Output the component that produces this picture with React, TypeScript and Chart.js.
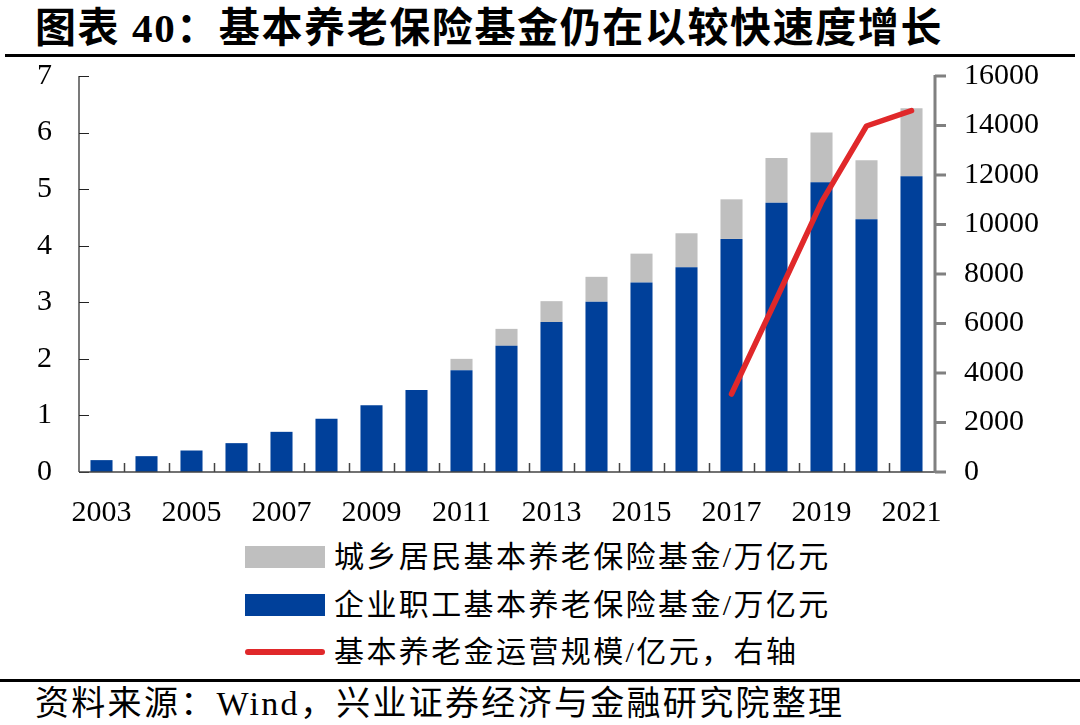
import React, { useEffect, useRef } from "react";
import { Chart, registerables } from "chart.js";

Chart.register(...registerables);

const years = ["2003","2004","2005","2006","2007","2008","2009","2010","2011","2012","2013","2014","2015","2016","2017","2018","2019","2020","2021"];
const enterpriseFund = [0.21,0.28,0.38,0.51,0.71,0.94,1.18,1.45,1.80,2.23,2.65,3.01,3.35,3.62,4.12,4.76,5.12,4.47,5.23];
const residentFund = [null,null,null,null,null,null,null,null,0.20,0.30,0.37,0.44,0.51,0.60,0.70,0.79,0.88,1.04,1.20];
const operatingScale = [null,null,null,null,null,null,null,null,null,null,null,null,null,null,3150,7000,10900,13980,14600];
const leftTicks = [0,1,2,3,4,5,6,7];
const rightTicks = [0,2000,4000,6000,8000,10000,12000,14000,16000];

const titleText = "图表 40：基本养老保险基金仍在以较快速度增长";
const legendResident = "城乡居民基本养老保险基金/万亿元";
const legendEnterprise = "企业职工基本养老保险基金/万亿元";
const legendScale = "基本养老金运营规模/亿元，右轴";
const sourceText = "资料来源：Wind，兴业证券经济与金融研究院整理";

const BLUE = "#00409A";
const GRAY = "#BFBFBF";
const RED = "#E0282A";
const FONT = "'Liberation Serif', 'Times New Roman', 'Noto Sans CJK SC', serif";

const tickPlugin = {
  id: "customTicks",
  afterDraw(chart: any) {
    const ctx = chart.ctx;
    const area = chart.chartArea;
    const y = chart.scales.y;
    const y1 = chart.scales.y1;
    ctx.save();
    // left axis
    ctx.strokeStyle = "#222";
    ctx.lineWidth = 1.2;
    ctx.beginPath();
    ctx.moveTo(area.left, area.top);
    ctx.lineTo(area.left, area.bottom);
    leftTicks.forEach((v) => {
      const py = Math.round(y.getPixelForValue(v)) + 0.5;
      ctx.moveTo(area.left, py);
      ctx.lineTo(area.left + 10, py);
    });
    ctx.stroke();
    // x axis
    ctx.strokeStyle = "#444";
    ctx.lineWidth = 1.5;
    ctx.beginPath();
    ctx.moveTo(area.left, area.bottom);
    ctx.lineTo(area.right, area.bottom);
    const step = (area.right - area.left) / years.length;
    for (let i = 1; i < years.length; i++) {
      const px = Math.round(area.left + step * i) + 0.5;
      ctx.moveTo(px, area.bottom);
      ctx.lineTo(px, area.bottom - 9);
    }
    ctx.stroke();
    // right axis
    ctx.strokeStyle = "#808080";
    ctx.lineWidth = 3;
    ctx.beginPath();
    ctx.moveTo(area.right + 1, area.top - 1);
    ctx.lineTo(area.right + 1, area.bottom + 1);
    rightTicks.forEach((v) => {
      const py = y1.getPixelForValue(v);
      ctx.moveTo(area.right + 1, py);
      ctx.lineTo(area.right + 12, py);
    });
    ctx.stroke();
    ctx.restore();
  },
};

export default function App() {
  const ref = useRef<HTMLCanvasElement>(null);
  useEffect(() => {
    if (!ref.current) return;
    const chart = new Chart(ref.current, {
      type: "bar",
      data: {
        labels: years,
        datasets: [
          {
            type: "line",
            label: legendScale,
            data: operatingScale,
            yAxisID: "y1",
            borderColor: RED,
            backgroundColor: RED,
            borderWidth: 5.5,
            pointRadius: 0,
            borderCapStyle: "round",
            borderJoinStyle: "round",
            spanGaps: false,
            order: 0,
          } as any,
          {
            label: legendEnterprise,
            data: enterpriseFund,
            backgroundColor: BLUE,
            yAxisID: "y",
            stack: "s",
            barPercentage: 0.49,
            categoryPercentage: 1,
            order: 2,
          },
          {
            label: legendResident,
            data: residentFund,
            backgroundColor: GRAY,
            yAxisID: "y",
            stack: "s",
            barPercentage: 0.49,
            categoryPercentage: 1,
            order: 2,
          },
        ],
      },
      options: {
        animation: false,
        responsive: false,
        maintainAspectRatio: false,
        layout: { padding: { top: 16, left: 0, right: 0, bottom: 0 } },
        plugins: { legend: { display: false }, tooltip: { enabled: false } },
        scales: {
          x: {
            stacked: true,
            grid: { display: false, drawTicks: false },
            border: { display: false },
            ticks: {
              autoSkip: false,
              maxRotation: 0,
              minRotation: 0,
              padding: 23,
              color: "#000",
              font: { family: FONT, size: 30 },
              callback: (_v: any, i: number) => (i % 2 === 0 ? years[i] : ""),
            },
            afterFit: (s: any) => { s.height = 63; s.paddingLeft = 0; s.paddingRight = 0; },
          },
          y: {
            stacked: true,
            position: "left",
            min: 0,
            max: 7,
            grid: { display: false, drawTicks: false },
            border: { display: false },
            ticks: {
              stepSize: 1,
              padding: 27,
              color: "#000",
              font: { family: FONT, size: 30 },
            },
            afterFit: (s: any) => { s.width = 79; s.paddingTop = 0; s.paddingBottom = 0; },
          },
          y1: {
            position: "right",
            min: 0,
            max: 16000,
            grid: { display: false, drawTicks: false },
            border: { display: false },
            ticks: {
              stepSize: 2000,
              padding: 30,
              color: "#000",
              font: { family: FONT, size: 30 },
              callback: (v: any) => String(v),
            },
            afterFit: (s: any) => { s.width = 146; s.paddingTop = 0; s.paddingBottom = 0; },
          },
        },
      },
      plugins: [tickPlugin],
    });
    return () => chart.destroy();
  }, []);

  const legendText: React.CSSProperties = {
    position: "absolute",
    left: 334,
    fontFamily: FONT,
    fontSize: 30,
    letterSpacing: "2.4px",
    lineHeight: "34px",
    color: "#000",
    whiteSpace: "nowrap",
  };

  return (
    <div style={{ position: "absolute", left: 0, top: 0, width: 1080, height: 725, background: "#fff", overflow: "hidden" }}>
      <div style={{ position: "absolute", left: 35, top: 4, fontFamily: FONT, fontWeight: "bold", fontSize: 41, lineHeight: "48px", letterSpacing: "1.6px", color: "#000", whiteSpace: "nowrap" }}>
        {titleText}
      </div>
      <div style={{ position: "absolute", left: 5, top: 54, width: 1070, height: 3, background: "#000" }} />
      <canvas ref={ref} width={1080} height={475} style={{ position: "absolute", left: 0, top: 60, width: 1080, height: 475 }} />
      <div style={{ position: "absolute", left: 245, top: 546, width: 80, height: 22, background: GRAY }} />
      <div style={{ ...legendText, top: 540 }}>{legendResident}</div>
      <div style={{ position: "absolute", left: 245, top: 594, width: 80, height: 22, background: BLUE }} />
      <div style={{ ...legendText, top: 588 }}>{legendEnterprise}</div>
      <div style={{ position: "absolute", left: 245, top: 649, width: 80, height: 6, borderRadius: 3, background: RED }} />
      <div style={{ ...legendText, top: 635 }}>{legendScale}</div>
      <div style={{ position: "absolute", left: 0, top: 679, width: 1080, height: 3, background: "#000" }} />
      <div style={{ position: "absolute", left: 35, top: 684, fontFamily: FONT, fontSize: 34, letterSpacing: "2.3px", lineHeight: "40px", color: "#000", whiteSpace: "nowrap" }}>
        {sourceText}
      </div>
    </div>
  );
}
